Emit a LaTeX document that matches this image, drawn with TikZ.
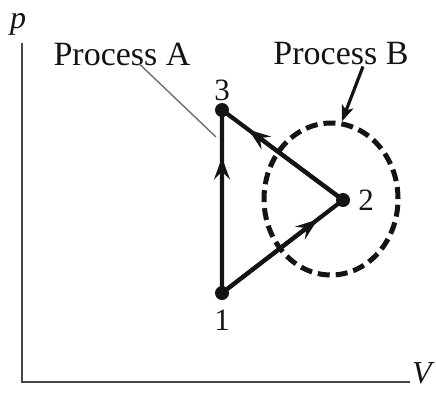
\documentclass[tikz,border=0pt]{standalone}
\usepackage{fontspec}
\setmainfont{Liberation Serif}
\usetikzlibrary{arrows.meta,positioning,calc,shapes.geometric}
\definecolor{PvInk}{RGB}{20,20,20}
\definecolor{PvAxis}{RGB}{70,70,70}
\definecolor{PvLead}{RGB}{110,110,110}
\tikzset{
  pv/axis/.style={draw=PvAxis, line width=1.8pt},
  pv/path/.style={draw=PvInk, line width=4.2pt},
  pv/head/.style={-{Stealth[length=22pt,width=16pt,inset=8pt]}, draw=PvInk, line width=4.2pt},
  pv/dot/.style={circle, fill=PvInk, inner sep=0pt, minimum size=14pt},
  pv/state/.style={font=\fontsize{31}{34}\selectfont, text=PvInk, inner sep=1pt},
  pv/label/.style={font=\fontsize{34}{38}\selectfont, text=PvInk, inner sep=1pt},
  pv/axislabel/.style={font=\fontsize{32}{36}\selectfont\itshape, text=PvInk, inner sep=0pt},
  pv/zone/.style={ellipse, draw=PvInk, line width=5pt, dash pattern=on 12pt off 6pt,
    minimum width=134pt, minimum height=152pt, inner sep=0pt},
  pv/leader/.style={draw=PvLead, line width=1.4pt},
  pv/pointer/.style={-{Stealth[length=16pt,width=12pt,inset=4pt]}, draw=PvInk, line width=3.2pt}
}
\begin{document}
\begin{tikzpicture}[x=1pt,y=-1pt]
  \useasboundingbox (0,0) rectangle (436,392);
  % axes
  \coordinate (O) at (22,382);
  \coordinate (ytop) at (22,43);
  \coordinate (xend) at (410,382);
  \draw[pv/axis] (ytop) -- (O) -- (xend);
  \node[pv/axislabel] (plab) at (18,24) {p};
  \node[pv/axislabel] (vlab) at (422,373) {V};
  % states
  \node[pv/dot] (s1) at (222,293) {};
  \node[pv/dot] (s2) at (343,200) {};
  \node[pv/dot] (s3) at (222,110) {};
  \node[pv/state,below=9pt of s1] (l1) {1};
  \node[pv/state,right=7pt of s2] (l2) {2};
  \node[pv/state,above=1pt of s3] (l3) {3};
  % cycle, heads part way along each leg
  \coordinate (m13) at ($(s1.center)!0.74!(s3.center)$);
  \coordinate (m23) at ($(s2.center)!0.78!(s3.center)$);
  \coordinate (m12) at ($(s1.center)!0.79!(s2.center)$);
  \draw[pv/path] (s1.center) -- (s3.center) -- (s2.center) -- (s1.center);
  \draw[pv/head] (s1.center) -- (m13);
  \draw[pv/head] (s2.center) -- (m23);
  \draw[pv/head] (s1.center) -- (m12);
  % process B region
  \node[pv/zone] (zoneB) at (331,199) {};
  % labels
  \node[pv/label] (procA) at (122,54) {Process A};
  \node[pv/label] (procB) at (341,54) {Process B};
  \coordinate (leadA) at (216,137);
  \draw[pv/leader] ($(procA.south)+(17pt,3pt)$) -- (leadA);
  \draw[pv/pointer] ($(procB.south)+(22pt,0)$) -- (zoneB.82);
\end{tikzpicture}
\end{document}
